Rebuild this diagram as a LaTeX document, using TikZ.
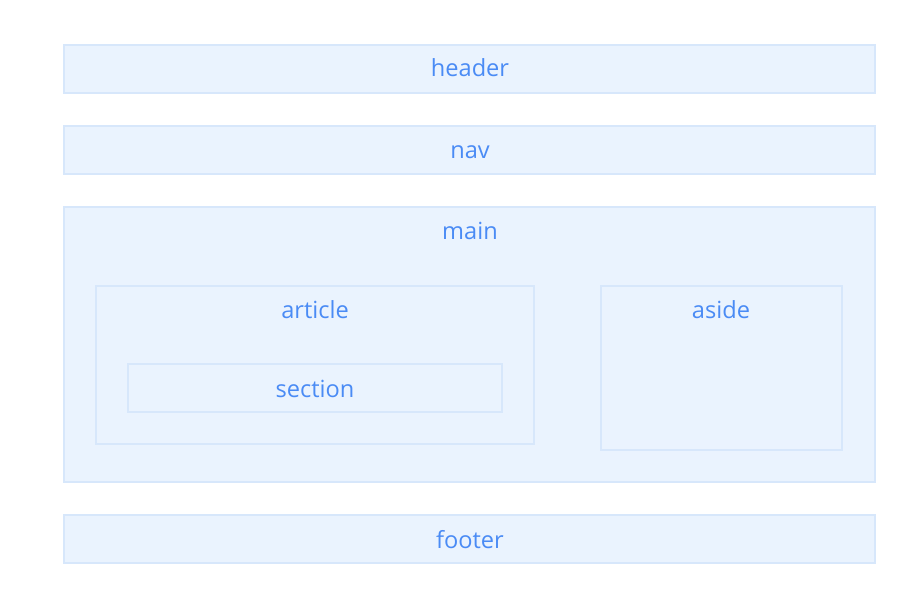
\documentclass[tikz,border=0pt]{standalone}
\usepackage{fontspec}
\setmainfont{Open Sans}
\definecolor{boxfill}{HTML}{EAF3FE}
\definecolor{boxline}{HTML}{D7E7FB}
\definecolor{txt}{HTML}{4A8BF5}
\begin{document}
\begin{tikzpicture}[x=1pt,y=-1pt,
  box/.style={draw=boxline,fill=boxfill,line width=2.3pt},
  lbl/.style={text=txt,font=\fontsize{23.6}{28}\selectfont,inner sep=0pt,anchor=base}]
\useasboundingbox[fill=white] (0,0) rectangle (918,612);
\draw[box] (64.2,45.2) rectangle (874.8,92.8);
\draw[box] (64.2,126.2) rectangle (874.8,173.8);
\draw[box] (64.2,207.2) rectangle (874.8,481.8);
\draw[box] (96.2,286.2) rectangle (533.8,443.8);
\draw[box] (128.2,364.2) rectangle (501.8,411.8);
\draw[box] (601.2,286.2) rectangle (841.8,449.8);
\draw[box] (64.2,515.2) rectangle (874.8,562.8);
\node[lbl] (header) at (470,77) {header};
\node[lbl] (nav) at (470,159) {nav};
\node[lbl] (main) at (470,240) {main};
\node[lbl] (article) at (315,318) {article};
\node[lbl] (section) at (315,397) {section};
\node[lbl] (aside) at (721,318) {aside};
\node[lbl] (footer) at (470,548) {footer};
\end{tikzpicture}
\end{document}
